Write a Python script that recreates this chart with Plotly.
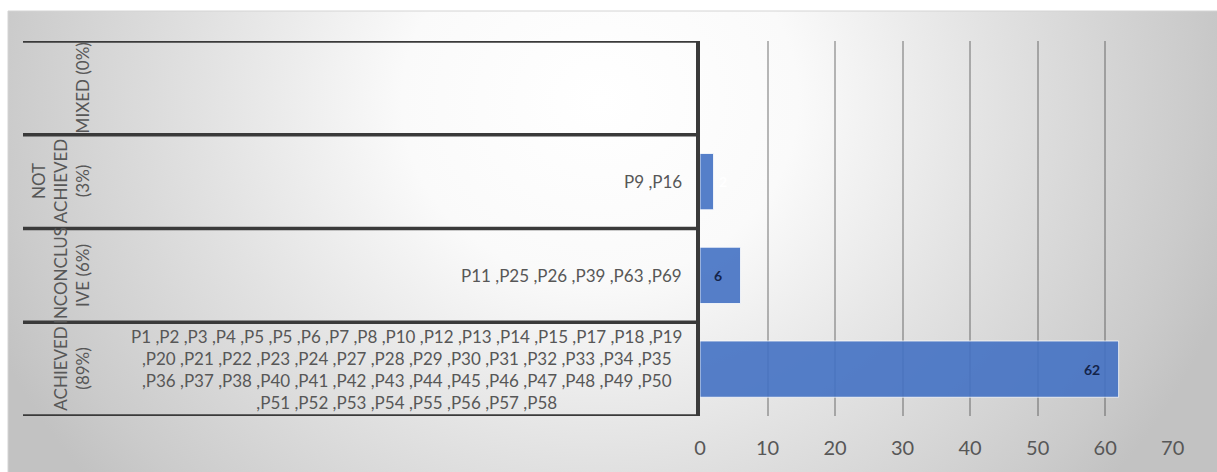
import plotly.graph_objects as go

# ---- data -------------------------------------------------------------
# categories from bottom row to top row
categories = ["ACHIEVED (89%)", "INCONCLUSIVE (6%)", "NOT ACHIEVED (3%)", "MIXED (0%)"]
category_labels = ["ACHIEVED<br>(89%)", "INCONCLUS<br>IVE (6%)", "NOT<br>ACHIEVED<br>(3%)", "MIXED (0%)"]
counts = [62, 6, 2, 0]
participants = [
    "P1 ,P2 ,P3 ,P4 ,P5 ,P5 ,P6 ,P7 ,P8 ,P10 ,P12 ,P13 ,P14 ,P15 ,P17 ,P18 ,P19<br>"
    ",P20 ,P21 ,P22 ,P23 ,P24 ,P27 ,P28 ,P29 ,P30 ,P31 ,P32 ,P33 ,P34 ,P35<br>"
    ",P36 ,P37 ,P38 ,P40 ,P41 ,P42 ,P43 ,P44 ,P45 ,P46 ,P47 ,P48 ,P49 ,P50<br>"
    ",P51 ,P52 ,P53 ,P54 ,P55 ,P56 ,P57 ,P58",
    "P11 ,P25 ,P26 ,P39 ,P63 ,P69",
    "P9 ,P16",
    "",
]
x_ticks = [0, 10, 20, 30, 40, 50, 60, 70]

# ---- layout constants (pixels) ---------------------------------------
W, H = 1217, 472
FONT = "Lato"
TEXT_GREY = "#575757"
RULE = "#3a3a3a"

frame_left, frame_top = 8, 11
plot_left, plot_right = 700, 1173
plot_top, plot_bottom = 41, 416
table_left = 23

px = lambda v: v / W
py = lambda v: 1 - v / H

fig = go.Figure()

# soft radial background inside the chart frame
cx, cy, hw, hh = 600, 100, 660, 600
fig.add_trace(go.Scatter(
    x=[cx - hw, cx + hw, cx + hw, cx - hw, cx - hw],
    y=[cy - hh, cy - hh, cy + hh, cy + hh, cy - hh],
    mode="lines", line=dict(width=0), fill="toself",
    fillgradient=dict(type="radial", colorscale=[
        [0.0, "#ffffff"], [0.3, "#fafafa"], [0.6, "#e2e2e2"],
        [0.9, "#cbcbcb"], [1.0, "#c2c2c2"]]),
    hoverinfo="skip", showlegend=False, xaxis="x", yaxis="y",
))

# bars
fig.add_trace(go.Bar(
    x=counts, y=categories, orientation="h",
    marker=dict(color="#4472C4", opacity=0.9,
                line=dict(color="rgba(255,255,255,0.8)", width=1)),
    width=0.6, hoverinfo="skip", showlegend=False,
    xaxis="x2", yaxis="y2",
))

shapes = []
annotations = []

# row separators of the label table
for i in range(len(categories) + 1):
    shapes.append(dict(type="line", xref="paper", yref="y2",
                       x0=px(table_left), x1=px(plot_left - 1),
                       y0=i - 0.5, y1=i - 0.5,
                       line=dict(color=RULE, width=3.5), layer="above"))

# chart frame
shapes.append(dict(type="rect", xref="paper", yref="paper",
                   x0=px(frame_left), x1=1.01, y0=-0.01, y1=py(frame_top),
                   line=dict(color="#d4d4d4", width=1), layer="above"))

for i, cat in enumerate(categories):
    # rotated category names
    annotations.append(dict(
        xref="paper", yref="y2", x=px(95), y=i, xanchor="right", yanchor="middle",
        text=category_labels[i], textangle=-90, showarrow=False, align="center",
        font=dict(family=FONT, size=17, color=TEXT_GREY)))
    # participant lists
    if participants[i]:
        annotations.append(dict(
            xref="paper", yref="y2", x=px(684), y=i, xanchor="right", yanchor="middle",
            text=participants[i], showarrow=False, align="center",
            font=dict(family=FONT, size=17, color=TEXT_GREY)))
    # value labels
    v = counts[i]
    if v > 0:
        if v >= 5:
            annotations.append(dict(
                xref="x2", yref="y2", x=v, y=i, xanchor="right", xshift=-17,
                text=f"<b>{v}</b>", showarrow=False,
                font=dict(family=FONT, size=14, color="#14244a")))
        else:
            annotations.append(dict(
                xref="x2", yref="y2", x=v, y=i, xanchor="left", xshift=3,
                text=f"<b>{v}</b>", showarrow=False,
                font=dict(family=FONT, size=14, color="#ffffff")))

fig.update_layout(
    width=W, height=H,
    margin=dict(l=0, r=0, t=0, b=0, pad=0, autoexpand=False),
    paper_bgcolor="#ffffff",
    plot_bgcolor="rgba(0,0,0,0)",
    font=dict(family=FONT, color=TEXT_GREY),
    xaxis=dict(domain=[px(frame_left), 1], range=[frame_left, W],
               visible=False, fixedrange=True, automargin=False),
    yaxis=dict(domain=[0, py(frame_top)], range=[H, frame_top],
               visible=False, fixedrange=True, automargin=False),
    xaxis2=dict(domain=[px(plot_left), px(plot_right)], range=[0, 70.05],
                anchor="y2", tickvals=x_ticks, ticktext=[str(t) for t in x_ticks],
                showgrid=True, gridcolor="rgba(70,70,70,0.38)", gridwidth=1.5,
                zeroline=False, showline=False, ticks="",
                ticklabelstandoff=18, automargin=False,
                tickfont=dict(family=FONT, size=20, color=TEXT_GREY),
                fixedrange=True),
    yaxis2=dict(domain=[py(plot_bottom), py(plot_top)], range=[-0.5, 3.5],
                anchor="x2", type="category", categoryorder="array",
                categoryarray=categories, showticklabels=False, ticks="",
                showgrid=False, zeroline=False, automargin=False,
                showline=True, linecolor=RULE, linewidth=3.5,
                fixedrange=True),
    shapes=shapes,
    annotations=annotations,
    bargap=0.4,
)

fig.write_html("out.html")
